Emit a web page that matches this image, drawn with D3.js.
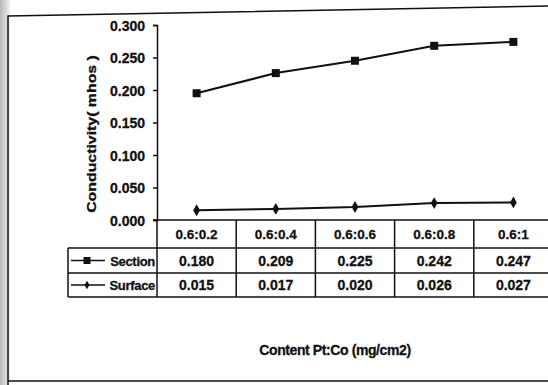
<!DOCTYPE html>
<html>
<head>
<meta charset="utf-8">
<script src="https://cdn.jsdelivr.net/npm/d3@7"></script>
<style>
  body { margin: 0; background: #fff; }
  svg { display: block; }
  text { font-family: "Liberation Sans", Arial, sans-serif; font-weight: bold; fill: #111; stroke: #111; stroke-width: 0.3px; }
</style>
</head>
<body>
<svg id="chart" width="548" height="385"></svg>
<script>
// data (the plotted lines are stacked)
const categories = ['0.6:0.2', '0.6:0.4', '0.6:0.6', '0.6:0.8', '0.6:1'];
const surface = [0.015, 0.017, 0.020, 0.026, 0.027];
const section = [0.180, 0.209, 0.225, 0.242, 0.247];
const yTicks = [0, 0.05, 0.1, 0.15, 0.2, 0.25, 0.3];

const svg = d3.select('#chart');
const W = 548, H = 385;

// scanned page edge on the left
const defs = svg.append('defs');
const grad = defs.append('linearGradient').attr('id', 'edge');
grad.append('stop').attr('offset', '0%').attr('stop-color', '#b8b8b8');
grad.append('stop').attr('offset', '100%').attr('stop-color', '#f2f2f2');
svg.append('rect').attr('x', 0).attr('y', 0).attr('width', 10).attr('height', H).attr('fill', 'url(#edge)');

// outer frame (slightly skewed by the scan)
svg.append('path')
    .attr('d', `M8,${H} L8,16 L${W},6`)
    .attr('fill', 'none').attr('stroke', '#111').attr('stroke-width', 1.5);
svg.append('line')
    .attr('x1', 8).attr('x2', W).attr('y1', 381).attr('y2', 381)
    .attr('stroke', '#111').attr('stroke-width', 1.5);

const plotLeft = 157, colW = 79.2;
const plotTop = 25, plotBottom = 220;

const x = d3.scaleBand().domain(categories).range([plotLeft, plotLeft + colW * categories.length]);
const y = d3.scaleLinear().domain([0, 0.3]).range([plotBottom, plotTop]);

// y axis
const yAxis = d3.axisLeft(y).tickValues(yTicks).tickFormat(d3.format('.3f')).tickSize(4).tickPadding(8);
const gy = svg.append('g').attr('transform', `translate(${plotLeft},0)`).call(yAxis);
gy.select('.domain').attr('stroke', '#111').attr('stroke-width', 1.5);
gy.selectAll('.tick line').attr('stroke', '#111').attr('stroke-width', 1.5);
gy.selectAll('.tick text').style('font-size', '14px').style('fill', '#111').attr('dy', '0.36em');

svg.append('text')
    .attr('transform', 'translate(96,134) rotate(-90) scale(1.22,1)')
    .attr('text-anchor', 'middle')
    .style('font-size', '13px')
    .text('Conductivity( mhos )');

// stacked series
const rows = categories.map((c, i) => ({ cat: c, Surface: surface[i], Section: section[i] }));
const stacked = d3.stack().keys(['Surface', 'Section'])(rows);
const cx = d => x(d.data.cat) + x.bandwidth() / 2;

const line = d3.line().x(cx).y(d => y(d[1]));
svg.selectAll('.series')
    .data(stacked)
    .enter().append('path')
    .attr('class', 'series')
    .attr('d', line)
    .attr('fill', 'none')
    .attr('stroke', '#111')
    .attr('stroke-width', 2);

// section markers (squares)
svg.selectAll('.sq')
    .data(stacked[1])
    .enter().append('rect')
    .attr('x', d => cx(d) - 4)
    .attr('y', d => y(d[1]) - 4)
    .attr('width', 8).attr('height', 8)
    .attr('fill', '#111');

// surface markers (diamonds)
const diamond = d3.symbol().type(d3.symbolDiamond).size(40);
svg.selectAll('.dm')
    .data(stacked[0])
    .enter().append('path')
    .attr('d', diamond)
    .attr('transform', d => `translate(${cx(d)},${y(d[1])})`)
    .attr('fill', '#111');

// data table
const rowY = [plotBottom, 248, 273, 297];
const legendLeft = 68;
const plotRight = plotLeft + colW * categories.length;
const tbl = svg.append('g').attr('stroke', '#111').attr('stroke-width', 1.5);

tbl.append('line').attr('x1', plotLeft - 4).attr('x2', plotRight).attr('y1', rowY[0]).attr('y2', rowY[0]);
rowY.slice(1).forEach(yy => {
    tbl.append('line').attr('x1', legendLeft).attr('x2', plotRight).attr('y1', yy).attr('y2', yy);
});
x.domain().forEach(c => {
    tbl.append('line').attr('x1', x(c)).attr('x2', x(c)).attr('y1', rowY[0]).attr('y2', rowY[3]);
});
tbl.append('line').attr('x1', legendLeft).attr('x2', legendLeft).attr('y1', rowY[1]).attr('y2', rowY[3]);

svg.selectAll('.cat')
    .data(categories)
    .enter().append('text')
    .attr('x', c => x(c) + x.bandwidth() / 2)
    .attr('y', (rowY[0] + rowY[1]) / 2 + 5)
    .attr('text-anchor', 'middle')
    .style('font-size', '13.5px')
    .text(c => c);

const tableRows = [
    { name: 'Section', values: section, y0: rowY[1], y1: rowY[2], marker: 'square' },
    { name: 'Surface', values: surface, y0: rowY[2], y1: rowY[3], marker: 'diamond' }
];

tableRows.forEach(r => {
    const my = (r.y0 + r.y1) / 2;
    r.values.forEach((v, i) => {
        svg.append('text')
            .attr('x', x(categories[i]) + x.bandwidth() / 2)
            .attr('y', my + 5)
            .attr('text-anchor', 'middle')
            .style('font-size', '14px')
            .text(d3.format('.3f')(v));
    });
    // legend key
    svg.append('line')
        .attr('x1', 71).attr('x2', 105).attr('y1', my).attr('y2', my)
        .attr('stroke', '#111').attr('stroke-width', 1.5);
    if (r.marker === 'square') {
        svg.append('rect').attr('x', 83.5).attr('y', my - 3.5).attr('width', 7).attr('height', 7).attr('fill', '#111');
    } else {
        svg.append('path').attr('d', d3.symbol().type(d3.symbolDiamond).size(22))
            .attr('transform', `translate(87,${my})`).attr('fill', '#111');
    }
    svg.append('text')
        .attr('x', 155)
        .attr('y', my + 5)
        .attr('text-anchor', 'end')
        .style('font-size', '13px')
        .style('letter-spacing', '-0.3px')
        .text(r.name);
});

// x axis title
svg.append('text')
    .attr('x', 335)
    .attr('y', 355)
    .attr('text-anchor', 'middle')
    .style('font-size', '14px')
    .style('letter-spacing', '-0.4px')
    .text('Content Pt:Co (mg/cm2)');
</script>
</body>
</html>
